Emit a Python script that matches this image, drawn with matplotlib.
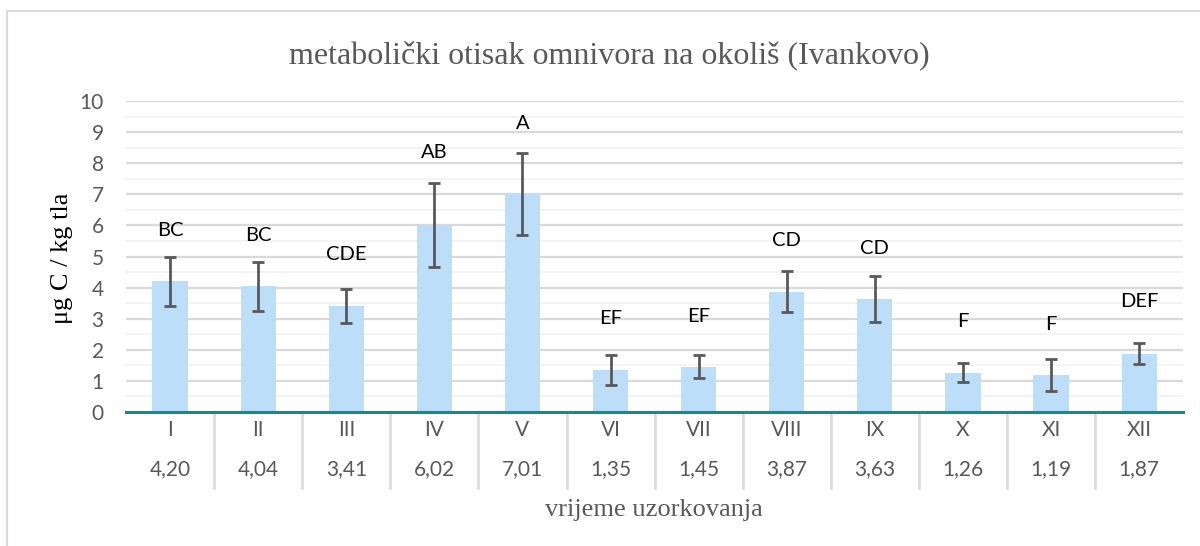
import numpy as np
import matplotlib.pyplot as plt
from matplotlib.patches import Rectangle

# monthly sampling: means, error bar half-widths and significance letters
months = ["I", "II", "III", "IV", "V", "VI", "VII", "VIII", "IX", "X", "XI", "XII"]
means = [4.20, 4.04, 3.41, 6.02, 7.01, 1.35, 1.45, 3.87, 3.63, 1.26, 1.19, 1.87]
errors = [0.79, 0.79, 0.54, 1.35, 1.31, 0.48, 0.37, 0.67, 0.74, 0.30, 0.52, 0.34]
letters = ["BC", "BC", "CDE", "AB", "A", "EF", "EF", "CD", "CD", "F", "F", "DEF"]
letter_y = [5.84, 5.68, 5.07, 8.35, 9.28, 3.02, 3.08, 5.52, 5.27, 2.90, 2.82, 3.54]

grey = "#595959"
sans = "Lato"
serif = "Liberation Serif"

fig = plt.figure(figsize=(12, 5.46), dpi=100)
ax = fig.add_axes([0.105, 0.2454, 0.881, 0.5696])

# outer chart frame
fig.patches.append(Rectangle((7 / 1200, -0.01), 1.1, 1 - 11 / 546 + 0.01,
                             transform=fig.transFigure, fill=False,
                             edgecolor="#D9D9D9", lw=1.5, zorder=0))

x = np.arange(len(months))
ax.bar(x, means, width=0.4, color="#BDDEF9", zorder=2)
ax.errorbar(x, means, yerr=errors, fmt="none", ecolor=grey, elinewidth=2,
            capsize=4, capthick=2, zorder=3)

for xi, lab, ly in zip(x, letters, letter_y):
    ax.text(xi, ly, lab, ha="center", va="center", fontsize=14.5,
            family=sans, color="black", zorder=4)

ax.set_xlim(-0.5, len(months) - 0.5)
ax.set_ylim(0, 10)
ax.set_yticks(range(0, 11))
ax.set_yticks(np.arange(0.5, 10, 1), minor=True)
ax.yaxis.grid(True, which="major", color="#D9D9D9", lw=1.6, zorder=0)
ax.yaxis.grid(True, which="minor", color="#F2F2F2", lw=1.2, zorder=0)
ax.set_axisbelow(True)
ax.tick_params(axis="y", which="both", length=0, pad=16, labelsize=15,
               labelcolor=grey)
for t in ax.get_yticklabels():
    t.set_family(sans)
ax.set_xticks([])

for side in ["left", "right", "top"]:
    ax.spines[side].set_visible(False)
ax.spines["bottom"].set_color("#0E8C8F")
ax.spines["bottom"].set_linewidth(2.2)
ax.spines["bottom"].set_zorder(5)

# data table under the axis: month names and mean values
tr = ax.get_xaxis_transform()
for xi, m, v in zip(x, months, means):
    ax.text(xi, -0.058, m, transform=tr, ha="center", va="center",
            fontsize=15, family=sans, color=grey, clip_on=False)
    ax.text(xi, -0.183, f"{v:.2f}".replace(".", ","), transform=tr,
            ha="center", va="center", fontsize=15, family=sans,
            color=grey, clip_on=False)
for b in np.arange(0.5, len(months) - 1, 1):
    ax.plot([b, b], [0, -0.244], transform=tr, color="#D9D9D9", lw=1.8,
            clip_on=False, zorder=1)

fig.text(0.508, 1 - 55 / 546, "metabolički otisak omnivora na okoliš (Ivankovo)",
         ha="center", va="center", fontsize=23, family=serif, color=grey)
fig.text(62 / 1200, 1 - 258 / 546, "μg C / kg tla", rotation=90,
         ha="center", va="center", fontsize=19, family=serif, color="black")
fig.text(0.545, 1 - 510 / 546, "vrijeme uzorkovanja", ha="center",
         va="center", fontsize=19, family=serif, color=grey)

fig.savefig("out.png", dpi=100)
